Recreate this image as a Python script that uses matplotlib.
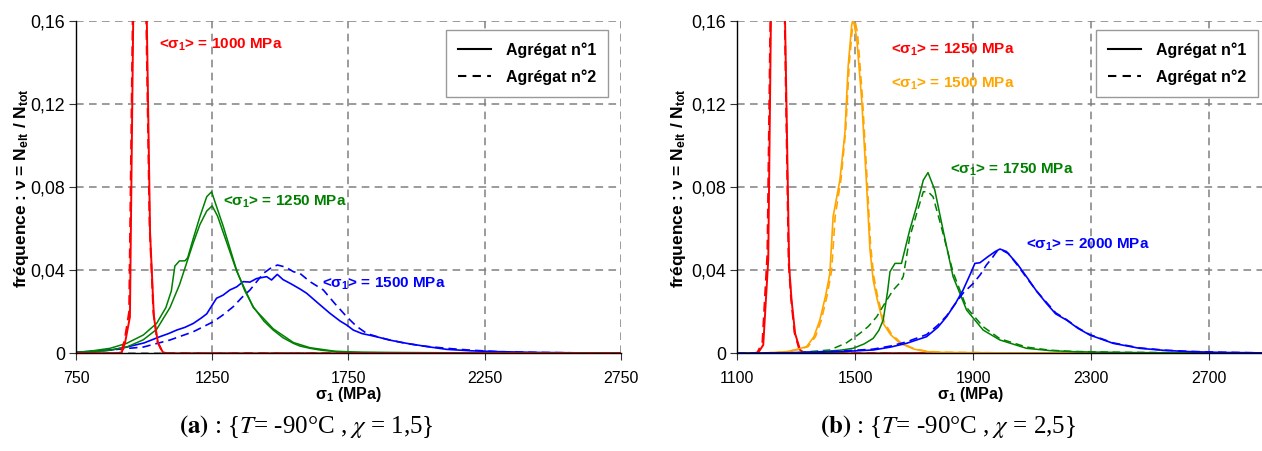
import matplotlib
matplotlib.use("Agg")
import matplotlib.pyplot as plt
from matplotlib.lines import Line2D
from matplotlib.ticker import FuncFormatter

plt.rcParams['font.family'] = ['Liberation Sans', 'DejaVu Sans']
plt.rcParams['mathtext.fontset'] = 'custom'
plt.rcParams['mathtext.rm'] = 'Liberation Sans:bold'
plt.rcParams['mathtext.it'] = 'Liberation Sans:bold:italic'
plt.rcParams['mathtext.bf'] = 'Liberation Sans:bold'

# ---------------- data : panel (a) ----------------
a_red1_x = [750, 900, 918, 930, 948, 960, 975, 990, 1000, 1010, 1022, 1036, 1051, 1069, 1085, 2750]
a_red1_y = [0, 0, 0.0005, 0.005, 0.0175, 0.16, 0.24, 0.26, 0.24, 0.16, 0.058, 0.0175, 0.005, 0.0005, 0, 0]
a_red2_x = [750, 895, 915, 928, 945, 958, 972, 988, 1000, 1008, 1020, 1034, 1048, 1066, 1082, 2750]
a_red2_y = [0, 0, 0.0005, 0.006, 0.02, 0.16, 0.24, 0.26, 0.24, 0.16, 0.062, 0.02, 0.006, 0.0008, 0, 0]

a_green1_x = [750, 800, 875, 936, 997, 1046, 1080, 1100, 1113, 1130, 1150, 1160, 1180, 1205, 1230, 1248,
              1260, 1291, 1328, 1340, 1370, 1401, 1440, 1474, 1510, 1548, 1572, 1609, 1650, 1719, 1800,
              1900, 2000, 2250, 2500, 2750]
a_green1_y = [0.0005, 0.001, 0.0024, 0.0048, 0.0088, 0.0144, 0.022, 0.030, 0.042, 0.0445, 0.0445, 0.046,
              0.055, 0.0658, 0.0754, 0.0778, 0.073, 0.061, 0.045, 0.040, 0.030, 0.0224, 0.0155, 0.0112,
              0.0075, 0.0048, 0.0035, 0.0024, 0.0015, 0.0006, 0.0004, 0.0003, 0.0003, 0.0002, 0.0001, 0.0001]
a_green2_x = [750, 800, 875, 936, 997, 1046, 1095, 1130, 1150, 1180, 1205, 1230, 1250, 1270, 1291, 1340,
              1401, 1474, 1548, 1609, 1700, 1800, 2000, 2250, 2750]
a_green2_y = [0.0003, 0.0006, 0.0015, 0.003, 0.0065, 0.0115, 0.022, 0.033, 0.041, 0.053, 0.062, 0.0685,
              0.071, 0.066, 0.058, 0.0395, 0.022, 0.0118, 0.0052, 0.0027, 0.001, 0.0005, 0.0003, 0.0002, 0.0001]

a_blue1_x = [750, 875, 936, 1000, 1058, 1090, 1120, 1150, 1181, 1210, 1230, 1266, 1290, 1315, 1340, 1364,
             1389, 1413, 1450, 1468, 1489, 1510, 1536, 1572, 1597, 1640, 1682, 1720, 1744, 1768, 1800,
             1853, 1900, 1964, 2040, 2111, 2200, 2300, 2450, 2600, 2750]
a_blue1_y = [0.0005, 0.0015, 0.003, 0.005, 0.008, 0.0095, 0.0112, 0.0125, 0.0144, 0.017, 0.019, 0.0265,
             0.028, 0.0305, 0.032, 0.0345, 0.0343, 0.036, 0.0369, 0.0353, 0.038, 0.0355, 0.0337, 0.031,
             0.0289, 0.024, 0.0193, 0.0155, 0.0136, 0.0112, 0.0095, 0.008, 0.0064, 0.0048, 0.0032, 0.0019,
             0.0012, 0.0008, 0.0004, 0.0002, 0.0001]
a_blue2_x = [750, 875, 997, 1095, 1181, 1254, 1290, 1327, 1360, 1389, 1438, 1470, 1490, 1520, 1548, 1572,
             1609, 1658, 1700, 1744, 1780, 1817, 1860, 1903, 1960, 2025, 2111, 2200, 2300, 2450, 2600, 2750]
a_blue2_y = [0.0003, 0.0016, 0.003, 0.0064, 0.0104, 0.0152, 0.0185, 0.0224, 0.027, 0.0305, 0.0385, 0.0415,
             0.0425, 0.0415, 0.0393, 0.0385, 0.0345, 0.0305, 0.024, 0.0176, 0.013, 0.0096, 0.0078, 0.0064,
             0.0048, 0.0035, 0.0024, 0.0015, 0.0008, 0.0004, 0.0002, 0.0001]

# ---------------- data : panel (b) ----------------
b_red1_x = [1100, 1160, 1171, 1188, 1205, 1214, 1225, 1238, 1250, 1262, 1276, 1284, 1296, 1313, 1330, 2880]
b_red1_y = [0, 0, 0.0003, 0.004, 0.045, 0.16, 0.24, 0.26, 0.24, 0.16, 0.0417, 0.0257, 0.0096, 0.0016, 0, 0]
b_red2_x = [1100, 1155, 1168, 1185, 1202, 1212, 1224, 1236, 1249, 1261, 1274, 1282, 1294, 1310, 1328, 2880]
b_red2_y = [0, 0, 0.0004, 0.005, 0.048, 0.16, 0.24, 0.26, 0.24, 0.16, 0.044, 0.027, 0.01, 0.002, 0, 0]

b_orange1_x = [1100, 1200, 1267, 1300, 1335, 1360, 1380, 1400, 1414, 1425, 1448, 1465, 1476, 1488, 1493,
               1505, 1522, 1539, 1550, 1561, 1573, 1595, 1620, 1652, 1700, 1742, 1800, 2000, 2880]
b_orange1_y = [0, 0.0002, 0.0008, 0.0018, 0.0032, 0.008, 0.016, 0.028, 0.0385, 0.0658, 0.0834, 0.106,
               0.138, 0.158, 0.161, 0.152, 0.122, 0.080, 0.05, 0.0353, 0.027, 0.0144, 0.009, 0.0048,
               0.002, 0.0008, 0.0004, 0.0002, 0.0001]
b_orange2_x = [1100, 1200, 1270, 1305, 1340, 1365, 1385, 1405, 1420, 1432, 1452, 1468, 1480, 1492, 1497,
               1508, 1524, 1541, 1552, 1563, 1575, 1598, 1622, 1655, 1700, 1745, 1800, 2000, 2880]
b_orange2_y = [0, 0.0002, 0.0008, 0.0018, 0.0032, 0.008, 0.016, 0.028, 0.040, 0.066, 0.084, 0.108, 0.140,
               0.159, 0.162, 0.154, 0.124, 0.082, 0.052, 0.037, 0.028, 0.015, 0.0095, 0.005, 0.0022,
               0.0009, 0.0005, 0.0002, 0.0001]

b_green1_x = [1100, 1300, 1380, 1450, 1493, 1530, 1561, 1580, 1595, 1610, 1618, 1635, 1657, 1685, 1708,
              1731, 1747, 1770, 1798, 1832, 1878, 1934, 1991, 2081, 2160, 2238, 2400, 2600, 2880]
b_green1_y = [0, 0.0002, 0.0008, 0.0015, 0.0024, 0.0045, 0.0072, 0.011, 0.016, 0.030, 0.0393, 0.0433,
              0.0433, 0.0594, 0.0706, 0.0834, 0.087, 0.0786, 0.0594, 0.0369, 0.0208, 0.0112, 0.0064,
              0.0024, 0.0013, 0.0008, 0.0004, 0.0002, 0.0001]
b_green2_x = [1100, 1300, 1414, 1470, 1516, 1545, 1573, 1600, 1629, 1652, 1663, 1685, 1710, 1731, 1747,
              1764, 1790, 1832, 1878, 1934, 1991, 2081, 2160, 2238, 2400, 2600, 2880]
b_green2_y = [0, 0.0003, 0.0016, 0.005, 0.0096, 0.013, 0.0176, 0.024, 0.0305, 0.034, 0.037, 0.056, 0.068,
              0.0778, 0.0778, 0.0754, 0.062, 0.039, 0.022, 0.0128, 0.007, 0.003, 0.0015, 0.0009, 0.0005,
              0.0003, 0.0001]

b_blue1_x = [1100, 1300, 1448, 1561, 1620, 1674, 1742, 1780, 1810, 1840, 1866, 1890, 1906, 1923, 1950,
             1975, 1991, 2013, 2050, 2081, 2115, 2149, 2180, 2217, 2256, 2296, 2375, 2465, 2550, 2635,
             2750, 2880]
b_blue1_y = [0, 0.0003, 0.0008, 0.0016, 0.003, 0.0048, 0.008, 0.0125, 0.0176, 0.024, 0.0305, 0.038,
             0.0433, 0.0436, 0.0465, 0.049, 0.0502, 0.049, 0.043, 0.0369, 0.030, 0.024, 0.019, 0.016,
             0.012, 0.0088, 0.0048, 0.0024, 0.0014, 0.0008, 0.0004, 0.0002]
b_blue2_x = [1100, 1300, 1448, 1561, 1620, 1674, 1742, 1780, 1810, 1840, 1866, 1901, 1925, 1945, 1965,
             1980, 2000, 2020, 2050, 2081, 2115, 2149, 2180, 2217, 2256, 2296, 2375, 2465, 2550, 2635,
             2750, 2880]
b_blue2_y = [0, 0.0003, 0.001, 0.002, 0.0035, 0.0055, 0.009, 0.0135, 0.018, 0.024, 0.029, 0.0337, 0.038,
             0.0425, 0.046, 0.049, 0.0495, 0.048, 0.0425, 0.0365, 0.030, 0.0245, 0.0195, 0.0162, 0.0122,
             0.009, 0.005, 0.0026, 0.0015, 0.0009, 0.0005, 0.0002]

a_xticks = [750, 1250, 1750, 2250, 2750]
b_xticks = [1100, 1500, 1900, 2300, 2700]
yticks = [0, 0.04, 0.08, 0.12, 0.16]
legend_labels = ['Agrégat n°1', 'Agrégat n°2']
a_means = [1000, 1250, 1500]
b_means = [1250, 1500, 1750, 2000]

RED, GREEN, BLUE, ORANGE = '#FF0000', '#008000', '#0000FF', '#FFA500'
DASH = (0, (5, 3))

W, H = 1262, 451
fig = plt.figure(figsize=(W / 100, H / 100), dpi=100)


def rect(l, r, t, b):
    return [l / W, 1 - b / H, (r - l) / W, (b - t) / H]


ax1 = fig.add_axes(rect(76, 620.7, 21, 353.3))
ax2 = fig.add_axes(rect(737.3, 1262, 21, 353.3))

yfmt = FuncFormatter(lambda v, p: '0' if abs(v) < 1e-9 else f'{v:.2f}'.replace('.', ','))

for ax, xt, xl in ((ax1, a_xticks, (750, 2750)), (ax2, b_xticks, (1100, 2880))):
    ax.set_xlim(*xl)
    ax.set_ylim(0, 0.16)
    ax.set_xticks(xt)
    ax.set_yticks(yticks)
    ax.yaxis.set_major_formatter(yfmt)
    ax.grid(True, color='#808080', linestyle=(0, (5, 3.5)), linewidth=1.1)
    ax.set_axisbelow(True)
    for s in ('top', 'right'):
        ax.spines[s].set_visible(False)
    for s in ('left', 'bottom'):
        ax.spines[s].set_color('black')
        ax.spines[s].set_linewidth(1.0)
    ax.tick_params(axis='y', labelsize=12.8, length=5, pad=3, color='#333333')
    ax.tick_params(axis='x', labelsize=11.5, length=5, pad=8, color='#333333')

# panel (a) curves
ax1.plot(a_blue1_x, a_blue1_y, color=BLUE, lw=1.2)
ax1.plot(a_blue2_x, a_blue2_y, color=BLUE, lw=1.2, linestyle=DASH)
ax1.plot(a_green1_x, a_green1_y, color=GREEN, lw=1.1)
ax1.plot(a_green2_x, a_green2_y, color=GREEN, lw=1.1)
ax1.plot(a_red2_x, a_red2_y, color=RED, lw=1.4, linestyle=DASH)
ax1.plot(a_red1_x, a_red1_y, color=RED, lw=1.4)

# panel (b) curves
ax2.plot(b_red2_x, b_red2_y, color=RED, lw=1.4, linestyle=DASH)
ax2.plot(b_red1_x, b_red1_y, color=RED, lw=1.4)
ax2.plot(b_orange2_x, b_orange2_y, color=ORANGE, lw=1.2, linestyle=DASH)
ax2.plot(b_orange1_x, b_orange1_y, color=ORANGE, lw=1.2)
ax2.plot(b_green2_x, b_green2_y, color=GREEN, lw=1.1, linestyle=DASH)
ax2.plot(b_green1_x, b_green1_y, color=GREEN, lw=1.1)
ax2.plot(b_blue2_x, b_blue2_y, color=BLUE, lw=1.2, linestyle=DASH)
ax2.plot(b_blue1_x, b_blue1_y, color=BLUE, lw=1.2)

ann_kw = dict(fontsize=11, fontweight='bold', ha='left', va='center')


def lab(m):
    return '<σ$_1$> = ' + str(m) + ' MPa'


ax1.text(1055, 0.1484, lab(a_means[0]), color=RED, **ann_kw)
ax1.text(1290, 0.0728, lab(a_means[1]), color=GREEN, **ann_kw)
ax1.text(1653, 0.0336, lab(a_means[2]), color=BLUE, **ann_kw)
ax2.text(1621, 0.146, lab(b_means[0]), color=RED, **ann_kw)
ax2.text(1621, 0.1297, lab(b_means[1]), color=ORANGE, **ann_kw)
ax2.text(1821, 0.0885, lab(b_means[2]), color=GREEN, **ann_kw)
ax2.text(2079, 0.0521, lab(b_means[3]), color=BLUE, **ann_kw)

handles = [Line2D([], [], color='black', lw=1.5),
           Line2D([], [], color='black', lw=1.5, linestyle=(0, (4, 3)))]
for ax, bx in ((ax1, 0.9767), (ax2, 0.9924)):
    leg = ax.legend(handles, legend_labels, loc='upper right', bbox_to_anchor=(bx, 0.973),
                    borderaxespad=0, fancybox=False, framealpha=1, edgecolor='#999999',
                    prop={'weight': 'bold', 'size': 11.5}, handlelength=2.1, labelspacing=0.75,
                    borderpad=0.75, handletextpad=0.9)
    leg.get_frame().set_linewidth(1.0)

ylab = 'fréquence : ν = N$_\\mathrm{elt}$ / N$_\\mathrm{tot}$'
fig.text(22 / W, 1 - 188 / H, ylab, rotation=90, ha='center', va='center', fontsize=12.5, fontweight='bold')
fig.text(679 / W, 1 - 188 / H, ylab, rotation=90, ha='center', va='center', fontsize=12.5, fontweight='bold')

xlab = 'σ$_1$ (MPa)'
fig.text(348 / W, 1 - 395 / H, xlab, ha='center', va='center', fontsize=11.5, fontweight='bold')
fig.text(970 / W, 1 - 395 / H, xlab, ha='center', va='center', fontsize=11.5, fontweight='bold')

cap_kw = dict(ha='center', va='center', fontsize=18, family='Liberation Serif', math_fontfamily='stix')
fig.text(306 / W, 1 - 427 / H, r'$\mathbf{(a)}$ : {$\mathit{T}$= -90°C , $\chi$ = 1,5}', **cap_kw)
fig.text(948 / W, 1 - 427 / H, r'$\mathbf{(b)}$ : {$\mathit{T}$= -90°C , $\chi$ = 2,5}', **cap_kw)

fig.savefig('out.png', dpi=100)
